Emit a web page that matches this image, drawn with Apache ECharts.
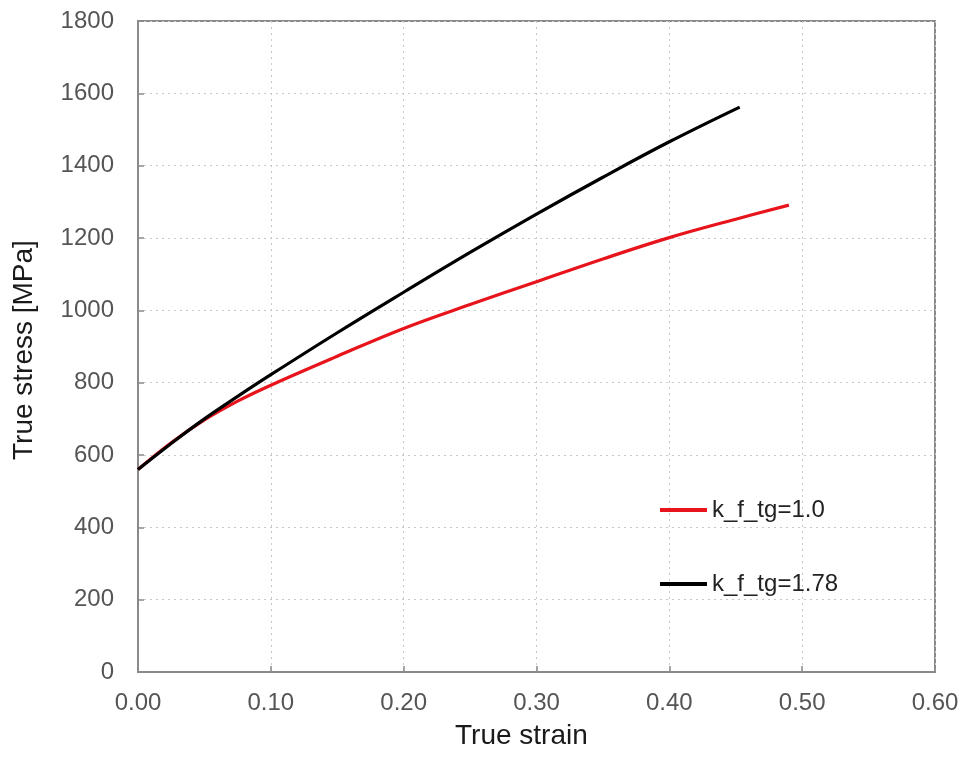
<!DOCTYPE html>
<html>
<head>
<meta charset="utf-8">
<script src="https://cdn.jsdelivr.net/npm/echarts@6/dist/echarts.min.js"></script>
<style>html,body{margin:0;padding:0;background:#fff;}#c{width:965px;height:763px;}</style>
</head>
<body>
<div id="c"></div>
<script>
const xTicks = [0, 0.1, 0.2, 0.3, 0.4, 0.5, 0.6];
const yTicks = [0, 200, 400, 600, 800, 1000, 1200, 1400, 1600, 1800];
const redName = 'k_f_tg=1.0';
const redStrain = [0, 0.025, 0.05, 0.075, 0.10, 0.15, 0.20, 0.25, 0.30, 0.35, 0.40, 0.45, 0.49];
const redStress = [560, 634, 697, 749, 793, 873, 950, 1016, 1079, 1142, 1201, 1252, 1291];
const blackName = 'k_f_tg=1.78';
const blackStrain = [0, 0.025, 0.05, 0.075, 0.10, 0.15, 0.20, 0.25, 0.30, 0.35, 0.40, 0.453];
const blackStress = [560, 632, 700, 762, 822, 938, 1050, 1160, 1266, 1368, 1466, 1562];

const FONT = 'Liberation Sans, Arial, sans-serif';
const zip = (a, b) => a.map((v, i) => [v, b[i]]);

const chart = echarts.init(document.getElementById('c'), null, {renderer: 'canvas'});
chart.setOption({
  backgroundColor: '#ffffff',
  animation: false,
  grid: {left: 138, right: 30, top: 21, bottom: 91, show: true, borderColor: '#8a8a8a', borderWidth: 2, backgroundColor: 'transparent'},
  xAxis: {
    type: 'value', min: 0, max: 0.6, interval: 0.1,
    axisLine: {show: true, lineStyle: {color: '#8a8a8a', width: 2}},
    axisTick: {show: true, inside: true, length: 6, lineStyle: {color: '#8a8a8a', width: 1.5}},
    axisLabel: {margin: 19, color: '#555', fontSize: 24, fontFamily: FONT, formatter: v => v.toFixed(2)},
    splitLine: {show: true, lineStyle: {color: '#c8c8c8', width: 1, type: [2, 4]}}
  },
  yAxis: {
    type: 'value', min: 0, max: 1800, interval: 200,
    axisLine: {show: true, lineStyle: {color: '#8a8a8a', width: 2}},
    axisTick: {show: true, inside: true, length: 6, lineStyle: {color: '#8a8a8a', width: 1.5}},
    axisLabel: {margin: 24, color: '#555', fontSize: 24, fontFamily: FONT, formatter: v => String(v)},
    splitLine: {show: true, lineStyle: {color: '#c8c8c8', width: 1, type: [2, 4]}}
  },
  legend: [
    {data: [redName], orient: 'vertical', left: 655, top: 493, icon: 'rect', itemWidth: 47, itemHeight: 4, itemGap: 0,
     textStyle: {fontSize: 24, color: '#222', fontFamily: FONT}},
    {data: [blackName], orient: 'vertical', left: 655, top: 567, icon: 'rect', itemWidth: 47, itemHeight: 4, itemGap: 0,
     textStyle: {fontSize: 24, color: '#222', fontFamily: FONT}}
  ],
  graphic: [
    {type: 'text', left: 455, top: 722, style: {text: 'True strain', font: '28px ' + FONT, fill: '#1a1a1a'}},
    {type: 'text', x: 10, y: 460, rotation: Math.PI / 2, style: {text: 'True stress [MPa]', font: '28px ' + FONT, fill: '#1a1a1a'}}
  ],
  series: [
    {name: redName, type: 'line', data: zip(redStrain, redStress), smooth: 0.4, symbol: 'none',
     lineStyle: {color: '#e8141b', width: 3.2}, itemStyle: {color: '#e8141b'}},
    {name: blackName, type: 'line', data: zip(blackStrain, blackStress), smooth: 0.4, symbol: 'none',
     lineStyle: {color: '#000000', width: 3.2}, itemStyle: {color: '#000000'}}
  ]
});
</script>
</body>
</html>
